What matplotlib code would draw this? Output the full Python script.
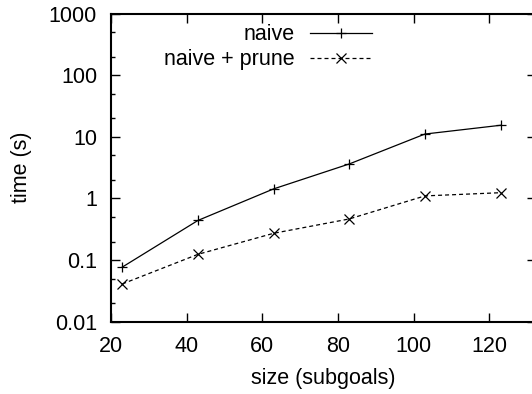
import numpy as np
import matplotlib.pyplot as plt
from matplotlib.ticker import LogLocator, NullFormatter, FixedLocator

plt.rcParams['font.family'] = ['Liberation Sans', 'DejaVu Sans']

# datos
size = [23, 43, 63, 83, 103, 123]
naive = [0.077, 0.44, 1.43, 3.63, 11.1, 15.4]
prune = [0.041, 0.124, 0.272, 0.465, 1.10, 1.24]
xticks = [20, 40, 60, 80, 100, 120]
yticks = [0.01, 0.1, 1, 10, 100, 1000]
ylabels = ['0.01', '0.1', '1', '10', '100', '1000']

fs = 15.5
fig = plt.figure(figsize=(5.32, 3.94), dpi=100)
ax = fig.add_axes([0.2086, 0.1835, 0.7984, 0.782])

ax.plot(size, naive, '-', color='black', lw=0.9, marker='+', ms=7.5, mew=0.9, label='naive')
ax.plot(size, prune, '--', color='black', lw=0.9, marker='x', ms=7.5, mew=0.9,
        dashes=(3.2, 2.4), label='naive + prune')

ax.set_yscale('log')
ax.set_xlim(20, 132.3)
ax.set_ylim(0.01, 1000)
ax.xaxis.set_major_locator(FixedLocator(xticks))
ax.set_xticklabels([str(t) for t in xticks])
ax.yaxis.set_major_locator(FixedLocator(yticks))
ax.set_yticklabels(ylabels)
ax.yaxis.set_minor_locator(LogLocator(base=10, subs=[2, 5]))
ax.yaxis.set_minor_formatter(NullFormatter())

ax.tick_params(which='both', direction='in', top=True, right=True, labelsize=fs, width=1, pad=10)
ax.tick_params(which='major', length=6.5)
ax.tick_params(which='minor', length=3)
for s in ax.spines.values():
    s.set_linewidth(1.5)

ax.set_xlabel('size (subgoals)', fontsize=fs, labelpad=8)
ax.set_ylabel('time (s)', fontsize=fs, labelpad=12)

ax.legend(loc='upper right', bbox_to_anchor=(372 / 532, 1 - 24.5 / 394), bbox_transform=fig.transFigure,
          frameon=False, markerfirst=False, fontsize=fs, handlelength=2.9, handletextpad=0.7,
          borderpad=0, borderaxespad=0, labelspacing=0.18)

plt.savefig('out.png', dpi=100)
